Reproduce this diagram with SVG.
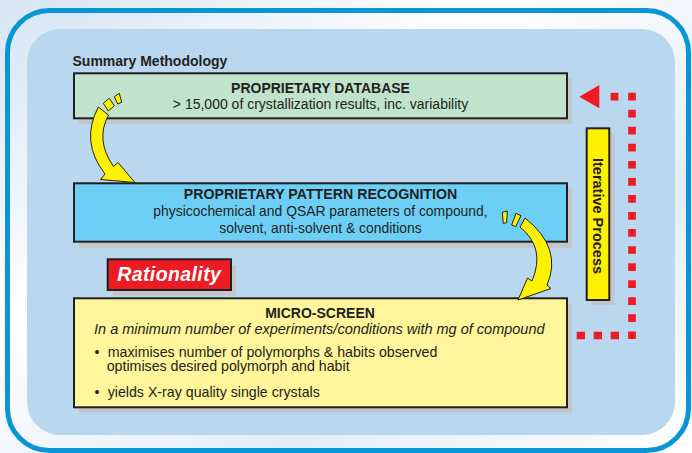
<svg xmlns="http://www.w3.org/2000/svg" width="692" height="453" viewBox="0 0 692 453">
<defs>
<linearGradient id="bg" x1="0" y1="0" x2="1" y2="1">
<stop offset="0" stop-color="#d6e5f4"/>
<stop offset="0.35" stop-color="#ffffff"/>
<stop offset="0.7" stop-color="#e3edf7"/>
<stop offset="1" stop-color="#ffffff"/>
</linearGradient>
<style>
.t{font-family:"Liberation Sans",Arial,Helvetica,sans-serif;fill:#231f20;}
.b{font-weight:bold;}
.box{stroke:#231f20;stroke-width:2;}
.sh{fill:#c4c6c8;}
.arrow{fill:#fff200;stroke:#231f20;stroke-width:1;stroke-linejoin:miter;}
.dots{fill:none;stroke:#ed1c24;stroke-width:7.7;}
</style>
</defs>
<rect x="0" y="0" width="692" height="453" fill="url(#bg)"/>
<rect x="7.5" y="10.5" width="681" height="440" rx="42" ry="42" fill="url(#bg)" stroke="#0a96d6" stroke-width="5"/>
<rect x="27" y="29" width="648" height="406" rx="33" ry="33" fill="#b9d7ef"/>

<g id="summary-title">
<text class="t b" x="72.5" y="65.5" font-size="14">Summary Methodology</text>
</g>

<g id="node-database">
<rect class="sh" x="79" y="78" width="493" height="46"/>
<rect class="box" x="74" y="73.3" width="493" height="45" fill="#c1e2cb"/>
<text class="t b" x="320.5" y="93" font-size="14" text-anchor="middle">PROPRIETARY DATABASE</text>
<text class="t" x="320.5" y="109.3" font-size="14" text-anchor="middle">&gt; 15,000 of crystallization results, inc. variability</text>
</g>

<g id="node-pattern">
<rect class="sh" x="79" y="188.3" width="493" height="59.4"/>
<rect class="box" x="74" y="183.3" width="493" height="58.4" fill="#6dcff6"/>
<text class="t b" x="320.5" y="199" font-size="14.2" text-anchor="middle">PROPRIETARY PATTERN RECOGNITION</text>
<text class="t" x="320.5" y="215.7" font-size="13.9" text-anchor="middle">physicochemical and QSAR parameters of compound,</text>
<text class="t" x="320.5" y="232.7" font-size="13.9" text-anchor="middle">solvent, anti-solvent &amp; conditions</text>
</g>

<g id="node-rationality">
<rect class="sh" x="113" y="265" width="123" height="30.7"/>
<rect class="box" x="107.7" y="259.3" width="123.3" height="30.7" fill="#ed1c24"/>
<text class="t b" x="169.3" y="281" font-size="19.5" font-style="italic" letter-spacing="0.4" text-anchor="middle" style="fill:#ffffff">Rationality</text>
</g>

<g id="node-microscreen">
<rect class="sh" x="79" y="303.3" width="493" height="109.4"/>
<rect class="box" x="74" y="298.3" width="493" height="109" fill="#fff59b"/>
<text class="t b" x="320" y="318.3" font-size="14" text-anchor="middle">MICRO-SCREEN</text>
<text class="t" x="319.3" y="334.3" font-size="14.5" font-style="italic" text-anchor="middle">In a minimum number of experiments/conditions with mg of compound</text>
<text class="t" x="94.5" y="357.3" font-size="14.2">•</text>
<text class="t" x="107.7" y="357.3" font-size="14.2">maximises number of polymorphs &amp; habits observed</text>
<text class="t" x="106.7" y="370.7" font-size="14.2">optimises desired polymorph and habit</text>
<text class="t" x="94.5" y="397.3" font-size="14.2">•</text>
<text class="t" x="107.7" y="397.3" font-size="14.2">yields X-ray quality single crystals</text>
</g>

<g id="node-iterative">
<rect class="sh" x="591.7" y="133.3" width="22.6" height="171.7"/>
<rect class="box" x="586.7" y="128.3" width="22.6" height="171.7" fill="#fff200"/>
<text class="t b" transform="translate(598,216) rotate(90)" x="0" y="5" font-size="14.5" text-anchor="middle">Iterative Process</text>
</g>

<g id="connectors">
<polygon class="arrow" points="103.3,103.3 108.3,111 114.3,105.7 109.3,98.3"/>
<polygon class="arrow" points="114.3,96.7 117.7,104 121.7,102.3 119.3,93.3"/>
<path class="arrow" d="M98.3,107 Q80,142 105,174 L100.5,179.5 L135,182.5 L118,162.5 L113.5,166.5 Q95,140 108.5,115 Z"/>
<polygon class="arrow" points="502.3,212.3 503.3,223.3 506.7,222.7 507.3,211"/>
<polygon class="arrow" points="511.7,225 515.7,226.7 521,215.7 516,213.3"/>
<path class="arrow" d="M525,218 Q563,248 547,285 L551,288.5 L518,300 L527.5,278 L532,281 Q546,248 520,227 Z"/>
<path class="dots" d="M632,92.7 V339.3" stroke-dasharray="7.7 9.35"/>
<path class="dots" d="M576.7,335.5 H620" stroke-dasharray="8.3 8.7"/>
<path class="dots" d="M610.7,96.7 H618.4"/>
<polygon points="579.3,96.7 599.3,85 599.3,108.3" fill="#ed1c24"/>
</g>
</svg>
